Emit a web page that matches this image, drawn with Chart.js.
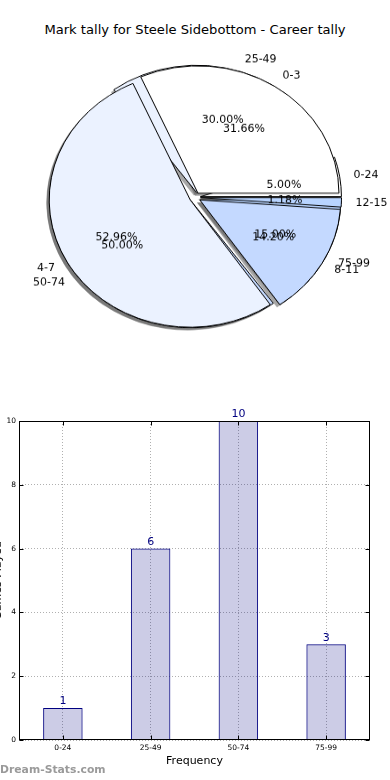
<!DOCTYPE html>
<html>
<head>
<meta charset="utf-8">
<script src="https://cdn.jsdelivr.net/npm/chart.js@4.4.1/dist/chart.umd.min.js"></script>
<style>
  body { margin: 0; background: #fff; width: 390px; height: 780px; overflow: hidden; position: relative; font-family: "DejaVu Sans", sans-serif; }
  #title { position: absolute; top: 22px; left: 0; width: 390px; text-align: center; font-size: 13.1px; color: #000; }
  #pieWrap { position: absolute; left: 0; top: 0; width: 390px; height: 400px; transform: scaleY(0.9034); transform-origin: 0 0; }
  #barWrap { position: absolute; left: -8px; top: 405px; width: 398px; height: 375px; }
  #mark { position: absolute; left: 0; top: 763px; font-size: 10.8px; font-weight: bold; color: #9a9a9a; }
</style>
</head>
<body>
<div id="title">Mark tally for Steele Sidebottom - Career tally</div>
<div id="pieWrap"><canvas id="pieChart"></canvas></div>
<div id="barWrap"><canvas id="barChart"></canvas></div>
<div id="mark">Dream-Stats.com</div>
<script>
// data
const rangeLabels = ["0-24", "25-49", "50-74", "75-99"];
const rangeCounts = [1, 6, 10, 3];
const markLabels = ["0-3", "4-7", "8-11", "12-15"];
const markCounts = [107, 179, 48, 4];
const sliceColors = ["#FFFFFF", "#EBF2FF", "#C4D9FF", "#B8D4FF"];
const yTicks = [0, 2, 4, 6, 8, 10];

// pie look
const SY = 0.9034; // pie is drawn squashed like the original
const PIE_R = 141;
const EXPLODE = 5.5;
const SHADOW = 2.9;

// matplotlib goes counter-clockwise from 3 o'clock, chart.js clockwise -> reverse
const rev = (arr) => arr.slice().reverse();

/** Overlay both pies at full radius, explode the slices, draw shadows + labels */
const overlayPies = {
  id: "overlayPies",
  afterDatasetsUpdate(chart) {
    const { left, right, top, bottom } = chart.chartArea;
    const cx = (left + right) / 2;
    const cy = (top + bottom) / 2;
    chart.data.datasets.forEach((ds, i) => {
      chart.getDatasetMeta(i).data.forEach((arc) => {
        const mid = (arc.startAngle + arc.endAngle) / 2;
        arc.x = cx + Math.cos(mid) * EXPLODE;
        arc.y = cy + Math.sin(mid) * EXPLODE;
        arc.innerRadius = 0;
        arc.outerRadius = PIE_R;
      });
    });
  },
  beforeDatasetsDraw(chart) {
    const ctx = chart.ctx;
    ctx.save();
    ctx.fillStyle = "rgba(77,77,77,0.5)";
    chart.data.datasets.forEach((ds, i) => {
      chart.getDatasetMeta(i).data.forEach((arc) => {
        ctx.beginPath();
        ctx.moveTo(arc.x - SHADOW, arc.y + SHADOW);
        ctx.arc(arc.x - SHADOW, arc.y + SHADOW, arc.outerRadius, arc.startAngle, arc.endAngle);
        ctx.closePath();
        ctx.fill();
      });
    });
    ctx.restore();
  },
  afterDatasetsDraw(chart) {
    const ctx = chart.ctx;
    const text = (t, x, y, align) => {
      ctx.save();
      ctx.translate(x, y);
      ctx.scale(1, 1 / SY);
      ctx.textAlign = align;
      ctx.fillText(t, 0, 0);
      ctx.restore();
    };
    ctx.save();
    ctx.font = "11px 'DejaVu Sans'";
    ctx.fillStyle = "#000";
    ctx.textBaseline = "middle";
    for (let i = chart.data.datasets.length - 1; i >= 0; i--) {
      const ds = chart.data.datasets[i];
      const total = ds.data.reduce((a, b) => a + b, 0);
      chart.getDatasetMeta(i).data.forEach((arc, j) => {
        const mid = (arc.startAngle + arc.endAngle) / 2;
        const c = Math.cos(mid), s = Math.sin(mid);
        text(ds.sliceLabels[j], arc.x + 1.1 * PIE_R * c, arc.y + 1.1 * PIE_R * s, c > 0 ? "left" : "right");
        const pct = ((ds.data[j] / total) * 100).toFixed(2) + "%";
        text(pct, arc.x + 0.6 * PIE_R * c, arc.y + 0.6 * PIE_R * s, "center");
      });
    }
    ctx.restore();
  },
};

new Chart(document.getElementById("pieChart"), {
  type: "pie",
  data: {
    labels: rev(markLabels),
    datasets: [
      // dataset 0 is painted last, so the mark tally sits on top
      {
        data: rev(markCounts),
        sliceLabels: rev(markLabels),
        backgroundColor: rev(sliceColors),
        borderColor: "#000",
        borderWidth: 1,
      },
      {
        data: rev(rangeCounts),
        sliceLabels: rev(rangeLabels),
        backgroundColor: rev(sliceColors),
        borderColor: "#000",
        borderWidth: 1,
      },
    ],
  },
  options: {
    responsive: true,
    maintainAspectRatio: false,
    animation: false,
    events: [],
    rotation: 90,
    layout: { padding: { top: 37, bottom: 0, left: 0, right: 0 } },
    plugins: { legend: { display: false }, tooltip: { enabled: false } },
  },
  plugins: [overlayPies],
});

/** Black frame round the plot with inward tick marks */
const plotFrame = {
  id: "plotFrame",
  afterDraw(chart) {
    const { ctx, chartArea: a, scales } = chart;
    const l = Math.round(a.left) + 0.5, r = Math.round(a.right) - 0.5;
    const t = Math.round(a.top) + 0.5, b = Math.round(a.bottom) - 0.5;
    ctx.save();
    ctx.strokeStyle = "#000";
    ctx.lineWidth = 1;
    ctx.strokeRect(l, t, r - l, b - t);
    ctx.beginPath();
    yTicks.forEach((v) => {
      const py = Math.round(scales.y.getPixelForValue(v)) + 0.5;
      ctx.moveTo(l, py); ctx.lineTo(l + 4, py);
      ctx.moveTo(r, py); ctx.lineTo(r - 4, py);
    });
    rangeLabels.forEach((lab, i) => {
      const px = Math.round(scales.x.getPixelForValue(i)) + 0.5;
      ctx.moveTo(px, b); ctx.lineTo(px, b - 4);
      ctx.moveTo(px, t); ctx.lineTo(px, t + 4);
    });
    ctx.stroke();
    ctx.restore();
  },
};

/** Value above each bar */
const barValues = {
  id: "barValues",
  afterDatasetsDraw(chart) {
    const ctx = chart.ctx;
    ctx.save();
    ctx.font = "11px 'DejaVu Sans'";
    ctx.fillStyle = "#000080";
    ctx.textAlign = "center";
    ctx.textBaseline = "bottom";
    chart.getDatasetMeta(0).data.forEach((bar, i) => {
      ctx.fillText(String(rangeCounts[i]), bar.x, bar.y - 1);
    });
    ctx.restore();
  },
};

new Chart(document.getElementById("barChart"), {
  type: "bar",
  data: {
    labels: rangeLabels,
    datasets: [
      {
        data: rangeCounts,
        backgroundColor: "rgba(0,0,128,0.2)",
        borderColor: "#000080",
        borderWidth: 1,
        barPercentage: 0.45,
        categoryPercentage: 1,
      },
    ],
  },
  options: {
    responsive: true,
    maintainAspectRatio: false,
    animation: false,
    events: [],
    layout: { padding: { top: 16, right: 20, bottom: 12, left: 0 } },
    plugins: { legend: { display: false }, tooltip: { enabled: false } },
    scales: {
      x: {
        grid: { offset: false, color: "#b0b0b0", drawTicks: false },
        border: { display: false, dash: [1, 2] },
        ticks: { color: "#000", font: { family: "DejaVu Sans", size: 7.5 }, padding: 4 },
        title: { display: true, text: "Frequency", color: "#000", font: { family: "DejaVu Sans", size: 11 }, padding: 0 },
        afterFit: (scale) => { scale.height = 28; },
      },
      y: {
        min: 0,
        max: 10,
        afterBuildTicks: (scale) => { scale.ticks = yTicks.map((v) => ({ value: v })); },
        grid: { color: "#b0b0b0", drawTicks: false },
        border: { display: false, dash: [1, 2] },
        ticks: { color: "#000", font: { family: "DejaVu Sans", size: 7.5 }, padding: 3 },
        title: { display: true, text: "Games Played", color: "#000", font: { family: "DejaVu Sans", size: 11 }, padding: 0 },
        afterFit: (scale) => { scale.width = 27; },
      },
    },
  },
  plugins: [plotFrame, barValues],
});
</script>
</body>
</html>
